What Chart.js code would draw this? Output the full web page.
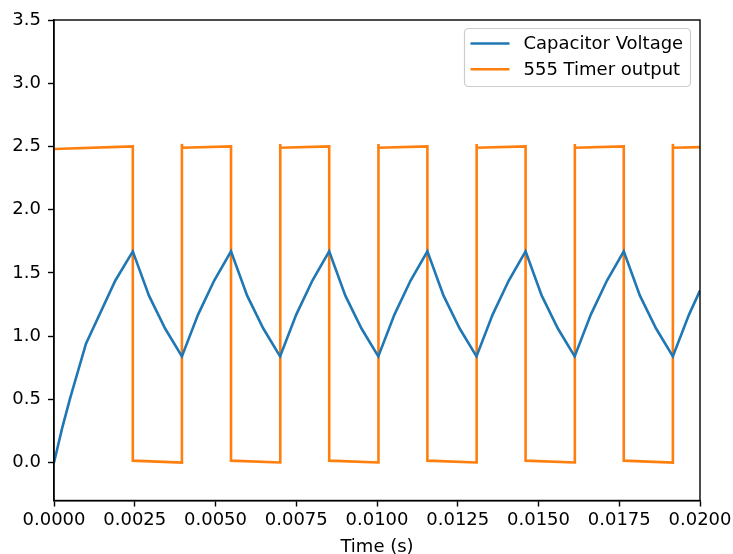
<!DOCTYPE html>
<html>
<head>
<meta charset="utf-8">
<title>555 timer</title>
<script src="https://cdn.jsdelivr.net/npm/chart.js@4.4.1/dist/chart.umd.min.js"></script>
<style>
  body { margin: 0; background: #fff; }
  #wrap { width: 733px; height: 554px; }
</style>
</head>
<body>
<div id="wrap"><canvas id="timerChart" width="733" height="554"></canvas></div>
<script>
// ---- data ----
const capTime = [
    0, 0.00025, 0.0005, 0.00099, 0.0019, 0.00244,
    0.00294, 0.00344, 0.00396, 0.00446, 0.00496, 0.00548,
    0.00598, 0.00648, 0.00700, 0.00750, 0.00800, 0.00852,
    0.00902, 0.00952, 0.01004, 0.01054, 0.01104, 0.01156,
    0.01206, 0.01256, 0.01308, 0.01358, 0.01408, 0.01460,
    0.01510, 0.01560, 0.01612, 0.01662, 0.01712, 0.01764,
    0.01814, 0.01864, 0.01916, 0.01966, 0.0200
];
const capVolt = [
    0, 0.27, 0.51, 0.94, 1.44, 1.67,
    1.32, 1.06, 0.84, 1.17, 1.44, 1.67,
    1.32, 1.06, 0.84, 1.17, 1.44, 1.67,
    1.32, 1.06, 0.84, 1.17, 1.44, 1.67,
    1.32, 1.06, 0.84, 1.17, 1.44, 1.67,
    1.32, 1.06, 0.84, 1.17, 1.44, 1.67,
    1.32, 1.06, 0.84, 1.17, 1.36
];

const outTime = [
    0, 0.00244, 0.00244, 0.00396,
    0.00396, 0.00397, 0.00548, 0.00548, 0.00700,
    0.00700, 0.00701, 0.00852, 0.00852, 0.01004,
    0.01004, 0.01005, 0.01156, 0.01156, 0.01308,
    0.01308, 0.01309, 0.01460, 0.01460, 0.01612,
    0.01612, 0.01613, 0.01764, 0.01764, 0.01916,
    0.01916, 0.01917, 0.0200
];
const outVolt = [
    2.48, 2.50, 0.015, 0.0,
    2.52, 2.49, 2.50, 0.015, 0.0,
    2.52, 2.49, 2.50, 0.015, 0.0,
    2.52, 2.49, 2.50, 0.015, 0.0,
    2.52, 2.49, 2.50, 0.015, 0.0,
    2.52, 2.49, 2.50, 0.015, 0.0,
    2.52, 2.49, 2.495
];

const xTicks = [0, 0.0025, 0.005, 0.0075, 0.01, 0.0125, 0.015, 0.0175, 0.02];
const yTicks = [0, 0.5, 1.0, 1.5, 2.0, 2.5, 3.0, 3.5];

const seriesNames = ['Capacitor Voltage', '555 Timer output'];
const seriesColors = ['#1f77b4', '#ff7f0e'];

const FONT = 'DejaVu Sans';
const FSIZE = 18;

function toPoints(xs, ys) {
    return xs.map((x, i) => ({ x: x, y: ys[i] }));
}

// frame around the plot area (matplotlib style spines)
const framePlugin = {
    id: 'frame',
    afterDatasetsDraw(chart) {
        const a = chart.chartArea;
        const ctx = chart.ctx;
        ctx.save();
        ctx.strokeStyle = '#000';
        ctx.lineWidth = 1.4;
        ctx.strokeRect(a.left, a.top, a.right - a.left, a.bottom - a.top);
        ctx.restore();
    }
};

// legend box in the upper right corner
const legendPlugin = {
    id: 'boxLegend',
    afterDraw(chart) {
        const ctx = chart.ctx;
        const a = chart.chartArea;
        const boxW = 226, boxH = 58;
        const bx = a.right - 9.5 - boxW;
        const by = a.top + 8.5;
        ctx.save();
        ctx.beginPath();
        ctx.roundRect(bx, by, boxW, boxH, 4);
        ctx.fillStyle = 'rgba(255,255,255,0.8)';
        ctx.fill();
        ctx.strokeStyle = '#cccccc';
        ctx.lineWidth = 1.2;
        ctx.stroke();

        ctx.font = FSIZE + 'px "' + FONT + '"';
        ctx.textBaseline = 'middle';
        ctx.fillStyle = '#000';
        chart.data.datasets.forEach((ds, i) => {
            const ly = by + 15 + i * 25.7;
            ctx.beginPath();
            ctx.moveTo(bx + 6, ly);
            ctx.lineTo(bx + 45, ly);
            ctx.strokeStyle = ds.borderColor;
            ctx.lineWidth = 2.6;
            ctx.stroke();
            ctx.fillText(ds.label, bx + 59, ly + 1);
        });
        ctx.restore();
    }
};

const ctx = document.getElementById('timerChart');

new Chart(ctx, {
    type: 'line',
    data: {
        datasets: [
            {
                label: seriesNames[0],
                data: toPoints(capTime, capVolt),
                borderColor: seriesColors[0],
                borderWidth: 2.6,
                pointRadius: 0,
                tension: 0,
                fill: false
            },
            {
                label: seriesNames[1],
                data: toPoints(outTime, outVolt),
                borderColor: seriesColors[1],
                borderWidth: 2.6,
                pointRadius: 0,
                tension: 0,
                fill: false
            }
        ]
    },
    options: {
        responsive: false,
        animation: false,
        devicePixelRatio: 1,
        layout: {
            padding: { left: 0, right: 33, top: 20, bottom: 0 }
        },
        plugins: {
            legend: { display: false },
            tooltip: { enabled: false }
        },
        scales: {
            x: {
                type: 'linear',
                min: 0,
                max: 0.02,
                afterBuildTicks: (scale) => {
                    scale.ticks = xTicks.map(v => ({ value: v }));
                },
                afterFit: (scale) => {
                    scale.height = 53.5;
                    scale.paddingLeft = 0;
                    scale.paddingRight = 0;
                },
                grid: {
                    drawOnChartArea: false,
                    drawTicks: true,
                    tickLength: 6,
                    tickWidth: 1.4,
                    tickColor: '#000'
                },
                border: { display: true, color: '#000', width: 1.4 },
                ticks: {
                    color: '#000',
                    padding: 3,
                    maxRotation: 0,
                    autoSkip: false,
                    font: { family: FONT, size: FSIZE },
                    callback: (v) => Number(v).toFixed(4)
                },
                title: {
                    display: true,
                    text: 'Time (s)',
                    color: '#000',
                    font: { family: FONT, size: FSIZE },
                    padding: { top: 0, bottom: -4 }
                }
            },
            y: {
                type: 'linear',
                min: -0.3,
                max: 3.5,
                afterBuildTicks: (scale) => {
                    scale.ticks = yTicks.map(v => ({ value: v }));
                },
                afterFit: (scale) => {
                    scale.width = 54;
                    scale.paddingTop = 0;
                    scale.paddingBottom = 0;
                },
                grid: {
                    drawOnChartArea: false,
                    drawTicks: true,
                    tickLength: 6,
                    tickWidth: 1.4,
                    tickColor: '#000'
                },
                border: { display: true, color: '#000', width: 1.4 },
                ticks: {
                    color: '#000',
                    padding: 7,
                    autoSkip: false,
                    font: { family: FONT, size: FSIZE },
                    callback: (v) => Number(v).toFixed(1)
                }
            }
        }
    },
    plugins: [framePlugin, legendPlugin]
});
</script>
</body>
</html>
